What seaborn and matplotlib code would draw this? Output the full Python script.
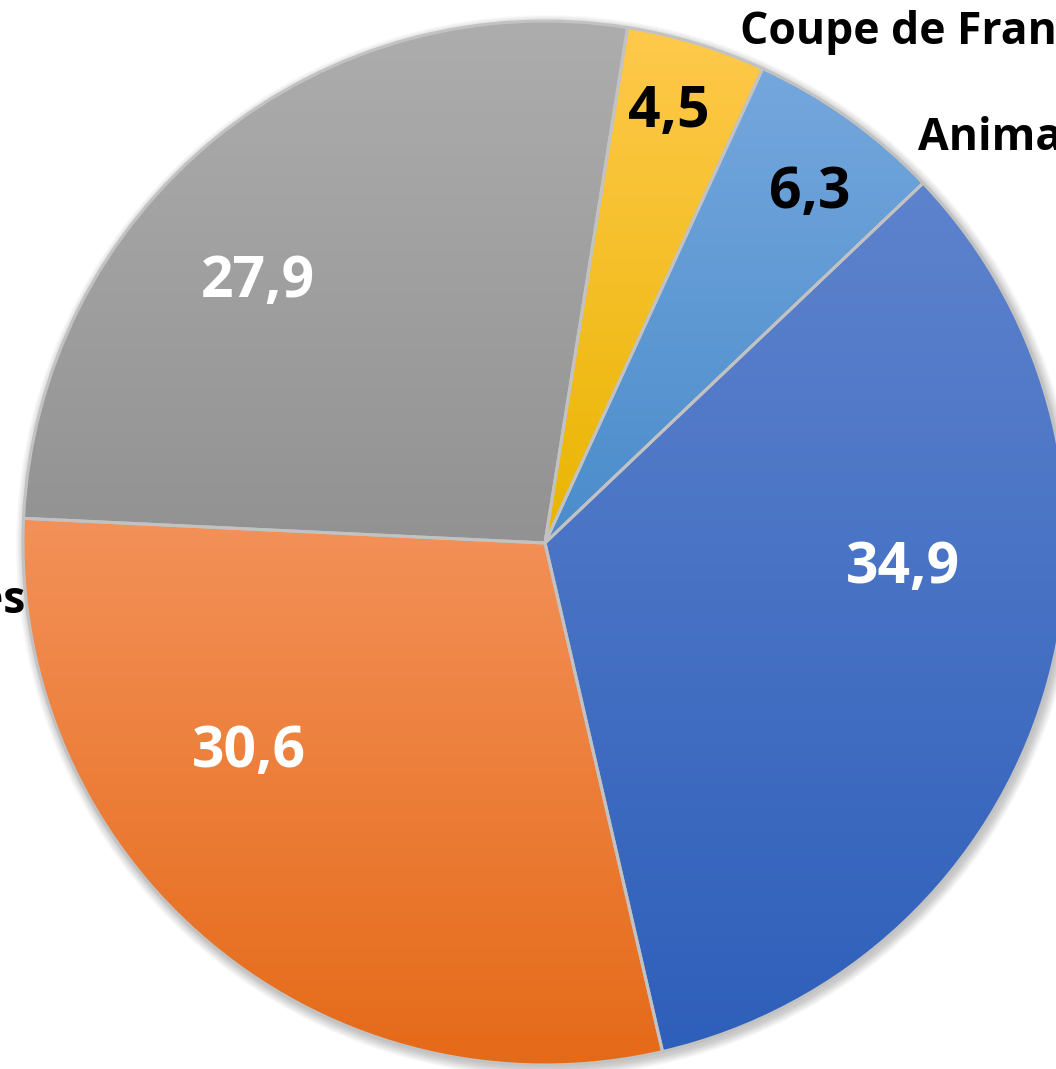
import numpy as np
import pandas as pd
import seaborn as sns
import matplotlib
matplotlib.use("Agg")
import matplotlib.pyplot as plt
from matplotlib.patches import Circle
from matplotlib.colors import to_rgb

# ---- data ----
categories = ["Coupe de France", "Animations", "Subventions", "Licences", "Partenaires"]
values = [4.5, 6.3, 34.9, 30.6, 27.9]
value_labels = ["4,5", "6,3", "34,9", "30,6", "27,9"]
label_colors = ["black", "black", "white", "white", "white"]

# ---- style ----
top_colors = ["#ffc94c", "#75a7dd", "#5e83cd", "#f39159", "#adadad"]
bottom_colors = ["#e9b500", "#4a8ccb", "#2e5fba", "#e56a18", "#929292"]
base_colors = ["#FFC000", "#5B9BD5", "#4472C4", "#ED7D31", "#A5A5A5"]

sns.set_theme(style="white")
plt.rcParams["font.family"] = ["Open Sans", "DejaVu Sans"]

W, H = 1056, 1069
cx, cy, R = 545, 543, 522

fig = plt.figure(figsize=(W / 100, H / 100), dpi=100)
ax = fig.add_axes([0, 0, 1, 1])

# soft shadow
for k in range(1, 10):
    ax.add_patch(Circle((2, -3), R + k, facecolor="black", alpha=0.025,
                        edgecolor="none", zorder=0))

wedges, _ = ax.pie(values, colors=base_colors, startangle=90 - 9.1,
                   counterclock=False, radius=R, center=(0, 0),
                   wedgeprops=dict(edgecolor="#c2c2c2", linewidth=2.2))

for w, tc, bc in zip(wedges, top_colors, bottom_colors):
    ext = w.get_path().get_extents()
    t = np.linspace(0, 1, 256)[:, None]
    grad = (1 - t) * np.array(to_rgb(tc)) + t * np.array(to_rgb(bc))
    img = ax.imshow(grad[:, None, :], extent=(ext.x0, ext.x1, ext.y0, ext.y1),
                    origin="upper", interpolation="bilinear", zorder=2)
    img.set_clip_path(w)
    w.set_facecolor("none")
    w.set_zorder(3)

# value labels (layout positions in axes fraction, baseline)
value_pos = [(0.6335, 0.8812), (0.767, 0.8054), (0.8551, 0.4546),
             (0.2358, 0.2825), (0.2438, 0.7222)]
for lbl, (x, y), c in zip(value_labels, value_pos, label_colors):
    ax.text(x, y, lbl, transform=ax.transAxes, ha="center", va="baseline",
            fontsize=41, fontweight="bold", color=c, zorder=5)

# category labels (only those visible in the crop)
cat_pos = {0: (0.7008, 0.9588, "left"), 1: (0.8693, 0.8597, "left"),
           3: (0.0237, 0.4266, "right")}
for i, (x, y, ha) in cat_pos.items():
    ax.text(x, y, categories[i], transform=ax.transAxes, ha=ha, va="baseline",
            fontsize=32, fontweight="bold", color="black", zorder=5)

ax.set_xlim(-cx, W - cx)
ax.set_ylim(-(H - cy), cy)
ax.set_aspect("equal")
ax.axis("off")

fig.savefig("out.png", dpi=100)
